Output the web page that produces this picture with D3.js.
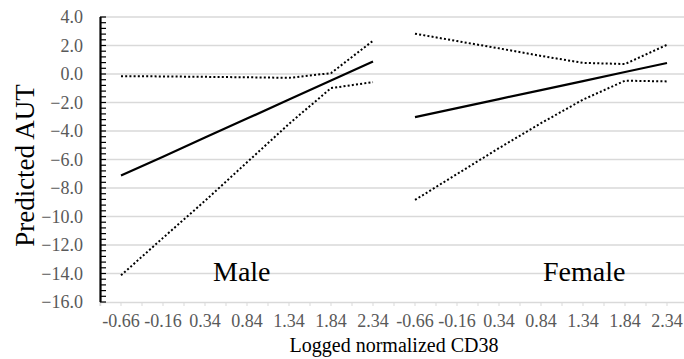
<!DOCTYPE html>
<html>
<head>
<meta charset="utf-8">
<script src="https://cdn.jsdelivr.net/npm/d3@7"></script>
</head>
<body style="margin:0">
<div id="chart"></div>
<script>
var svgWidth = 684;
var svgHeight = 359;
var FONT = "Liberation Serif";

var margin = { top: 17, right: -4, bottom: 57, left: 100 };
var width = svgWidth - margin.left - margin.right;
var height = svgHeight - margin.top - margin.bottom;

// data
var xLabels = ["-0.66", "-0.16", "0.34", "0.84", "1.34", "1.84", "2.34"];
var panels = ["Male", "Female"];
var yTicks = [4, 2, 0, -2, -4, -6, -8, -10, -12, -14, -16];

var maleFit = [-7.13, -5.80, -4.46, -3.13, -1.79, -0.46, 0.88];
var maleUpper = [-0.15, -0.17, -0.20, -0.23, -0.27, 0.06, 2.33];
var maleLower = [-14.13, -11.5, -8.9, -6.2, -3.5, -0.99, -0.57];

var femaleFit = [-3.03, -2.40, -1.76, -1.13, -0.50, 0.14, 0.77];
var femaleUpper = [2.83, 2.31, 1.80, 1.27, 0.78, 0.70, 2.05];
var femaleLower = [-8.84, -7.02, -5.2, -3.45, -1.8, -0.47, -0.52];

var categories = [];
panels.forEach(function(p) {
  xLabels.forEach(function(l) { categories.push(p + "|" + l); });
});

var svg = d3.select("#chart")
  .append("svg")
  .attr("width", svgWidth)
  .attr("height", svgHeight);

var chartGroup = svg.append("g")
  .attr("transform", `translate(${margin.left}, ${margin.top})`);

var x = d3.scaleBand()
  .domain(categories)
  .range([0, width])
  .padding(0);

var y = d3.scaleLinear()
  .domain([-16, 4])
  .range([height, 0]);

// gridlines
chartGroup.append("g")
  .selectAll("line")
  .data(yTicks.filter(d => d > -16))
  .enter()
  .append("line")
  .attr("x1", 0)
  .attr("x2", width)
  .attr("y1", d => y(d))
  .attr("y2", d => y(d))
  .attr("stroke", "#d9d9d9")
  .attr("stroke-width", 1.3);

// x axis
var bottomAxis = d3.axisBottom(x)
  .tickSize(4)
  .tickPadding(8)
  .tickFormat(d => d.split("|")[1]);

var xAxis = chartGroup.append("g")
  .attr("transform", `translate(0, ${height})`)
  .call(bottomAxis);

xAxis.select(".domain").attr("stroke", "#d9d9d9").attr("stroke-width", 1.5);
xAxis.selectAll(".tick line").attr("stroke", "#d9d9d9");
xAxis.selectAll(".tick text")
  .attr("fill", "#595959")
  .attr("font-family", FONT)
  .attr("font-size", 18);

// ticks on the band edges too
xAxis.append("g")
  .selectAll("line")
  .data(categories)
  .enter()
  .append("line")
  .attr("x1", d => x(d))
  .attr("x2", d => x(d))
  .attr("y1", 0)
  .attr("y2", 4)
  .attr("stroke", "#d9d9d9");

// y axis labels
var leftAxis = d3.axisLeft(y)
  .tickValues(yTicks)
  .tickSize(0)
  .tickPadding(17)
  .tickFormat(d3.format(".1f"));

var yAxis = chartGroup.append("g").call(leftAxis);
yAxis.select(".domain").remove();
yAxis.selectAll(".tick text")
  .attr("fill", "#595959")
  .attr("font-family", FONT)
  .attr("font-size", 18);

// y axis line with minor ticks
var minorTicks = d3.range(0, 51).map(i => 4 - i * 0.4);
chartGroup.append("g")
  .selectAll("line")
  .data(minorTicks)
  .enter()
  .append("line")
  .attr("x1", 0)
  .attr("x2", 6)
  .attr("y1", d => y(d))
  .attr("y2", d => y(d))
  .attr("stroke", "#000")
  .attr("stroke-width", 1.2);

chartGroup.append("line")
  .attr("x1", 0.5)
  .attr("x2", 0.5)
  .attr("y1", y(4))
  .attr("y2", y(-16))
  .attr("stroke", "#000")
  .attr("stroke-width", 2.2);

// series
var series = [
  { panel: "Male", values: maleFit, dashed: false },
  { panel: "Male", values: maleUpper, dashed: true },
  { panel: "Male", values: maleLower, dashed: true },
  { panel: "Female", values: femaleFit, dashed: false },
  { panel: "Female", values: femaleUpper, dashed: true },
  { panel: "Female", values: femaleLower, dashed: true }
];

var line = d3.line()
  .x(d => x(d.cat) + x.bandwidth() / 2)
  .y(d => y(d.v));

chartGroup.append("g")
  .selectAll("path")
  .data(series)
  .enter()
  .append("path")
  .attr("d", s => line(s.values.map((v, i) => ({ cat: s.panel + "|" + xLabels[i], v: v }))))
  .attr("fill", "none")
  .attr("stroke", "#000")
  .attr("stroke-width", s => s.dashed ? 2 : 2.2)
  .attr("stroke-dasharray", s => s.dashed ? "2,2.2" : null);

// panel labels
chartGroup.append("text")
  .attr("x", 113)
  .attr("y", y(-14.55))
  .attr("font-family", FONT)
  .attr("font-size", 28)
  .attr("fill", "#000")
  .text("Male");

chartGroup.append("text")
  .attr("x", 443)
  .attr("y", y(-14.55))
  .attr("font-family", FONT)
  .attr("font-size", 28)
  .attr("fill", "#000")
  .text("Female");

// axis titles
chartGroup.append("text")
  .attr("transform", "rotate(-90)")
  .attr("x", -(height / 2) - 6)
  .attr("y", -66)
  .attr("text-anchor", "middle")
  .attr("font-family", FONT)
  .attr("font-size", 27)
  .attr("fill", "#000")
  .text("Predicted AUT");

chartGroup.append("text")
  .attr("x", width / 2)
  .attr("y", height + 50)
  .attr("text-anchor", "middle")
  .attr("font-family", FONT)
  .attr("font-size", 20)
  .attr("fill", "#000")
  .text("Logged normalized CD38");
</script>
</body>
</html>
